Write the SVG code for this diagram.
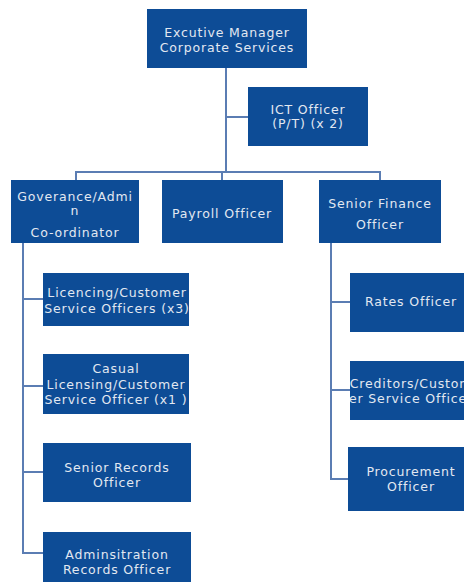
<svg xmlns="http://www.w3.org/2000/svg" width="464" height="582" viewBox="0 0 464 582">
<style>
.box{fill:#0d4c96}
.t{font-family:"DejaVu Sans","Liberation Sans",sans-serif;font-size:12.5px;fill:#e2e8f1;text-anchor:middle;letter-spacing:0.85px}
.ln{stroke:#5b7db3;stroke-width:2;fill:none}
</style>
<defs>
<clipPath id="cLic"><rect x="43" y="273" width="146" height="53"/></clipPath>
<clipPath id="cCas"><rect x="43" y="354" width="146" height="60"/></clipPath>
<clipPath id="cCred"><rect x="350" y="361" width="114" height="59"/></clipPath>
</defs>
<rect width="464" height="582" fill="#ffffff"/>
<g id="connectors">
<path class="ln" d="M226 68V172M226 117H248M76 172H380M76 171V180M222 172V180M380 171V180"/>
<path class="ln" d="M23 243V553H43M23 299H43M23 386H43M23 472H43"/>
<path class="ln" d="M331 243V479H350M331 302H350M331 390H350"/>
</g>
<g id="exec"><rect class="box" x="147" y="9" width="160" height="59"/>
<text class="t" x="227" y="37">Excutive Manager</text><text class="t" x="227" y="52">Corporate Services</text></g>
<g id="ict"><rect class="box" x="248" y="87" width="120" height="59"/>
<text class="t" x="308" y="114">ICT Officer</text><text class="t" x="308" y="128">(P/T)  (x 2)</text></g>
<g id="gov"><rect class="box" x="11" y="180" width="128" height="63"/>
<text class="t" x="75" y="201">Goverance/Admi</text><text class="t" x="75" y="215">n</text><text class="t" x="75" y="237">Co-ordinator</text></g>
<g id="payroll"><rect class="box" x="162" y="180" width="121" height="63"/>
<text class="t" x="222" y="218">Payroll Officer</text></g>
<g id="finance"><rect class="box" x="319" y="180" width="122" height="63"/>
<text class="t" x="380" y="208">Senior Finance</text><text class="t" x="380" y="229">Officer</text></g>
<g id="licencing"><rect class="box" x="43" y="273" width="146" height="53"/>
<g clip-path="url(#cLic)"><text class="t" x="117" y="297">Licencing/Customer</text><text class="t" x="117" y="313">Service Officers (x3)</text></g></g>
<g id="casual"><rect class="box" x="43" y="354" width="146" height="60"/>
<g clip-path="url(#cCas)"><text class="t" x="116" y="373">Casual</text><text class="t" x="116" y="389">Licensing/Customer</text><text class="t" x="116" y="404">Service Officer (x1 )</text></g></g>
<g id="srecords"><rect class="box" x="43" y="443" width="148" height="59"/>
<text class="t" x="117" y="472">Senior Records</text><text class="t" x="117" y="487">Officer</text></g>
<g id="adminrec"><rect class="box" x="43" y="532" width="148" height="55"/>
<text class="t" x="117" y="559">Adminsitration</text><text class="t" x="117" y="574">Records Officer</text></g>
<g id="rates"><rect class="box" x="350" y="273" width="122" height="59"/>
<text class="t" x="411" y="306">Rates Officer</text></g>
<g id="creditors"><rect class="box" x="350" y="361" width="122" height="59"/>
<g clip-path="url(#cCred)"><text class="t" x="411" y="388">Creditors/Custom</text><text class="t" x="411" y="403">er Service Officer</text></g></g>
<g id="procurement"><rect class="box" x="348" y="447" width="124" height="64"/>
<text class="t" x="411" y="476">Procurement</text><text class="t" x="411" y="491">Officer</text></g>
</svg>
